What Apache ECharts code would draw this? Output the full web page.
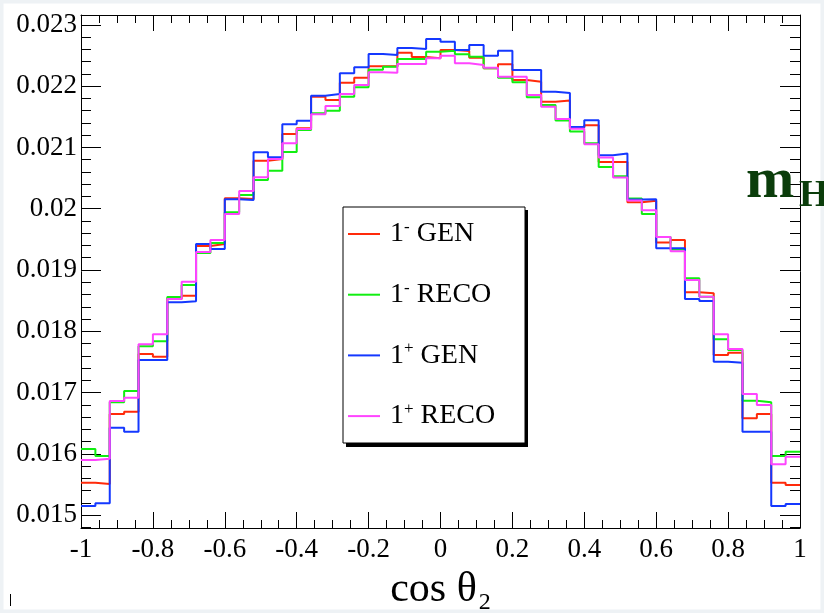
<!DOCTYPE html>
<html><head><meta charset="utf-8">
<script src="https://cdn.jsdelivr.net/npm/echarts@6/dist/echarts.min.js"></script>
<style>html,body{margin:0;padding:0;background:#fff}#c{width:824px;height:613px}</style>
</head><body><div id="c"></div>
<script>
// ---- histogram definition ----
const xMin = -1, xMax = 1, binWidth = 0.04; // 50 bins
const seriesNames = ['1- GEN', '1- RECO', '1+ GEN', '1+ RECO'];
const seriesColors = ['#ff2a0a', '#11ee11', '#1438ff', '#ff44ff'];

// bin contents, bins from cos = -1 to 1
const minusGEN = [
  0.015527,0.015506,0.016649,0.016687,0.017629,0.017584,0.018527,0.018580,0.019392,0.019424,
  0.020171,0.020159,0.020784,0.020812,0.021220,0.021314,0.021829,0.021776,0.022058,0.022140,
  0.022326,0.022326,0.022548,0.022478,0.022456,0.022592,0.022576,0.022466,0.022293,0.022358,
  0.022102,0.022074,0.021748,0.021767,0.021327,0.021362,0.020763,0.020763,0.020105,0.020130,
  0.019449,0.019490,0.018636,0.018620,0.017612,0.017650,0.016579,0.016649,0.015527,0.015490];
const minusRECO = [
  0.016078,0.015963,0.016840,0.017024,0.017754,0.017836,0.018559,0.018755,0.019278,0.019441,
  0.019942,0.020224,0.020469,0.020621,0.020927,0.021286,0.021558,0.021601,0.021829,0.021983,
  0.022270,0.022319,0.022445,0.022445,0.022564,0.022580,0.022522,0.022482,0.022293,0.022140,
  0.022065,0.021820,0.021694,0.021441,0.021261,0.021069,0.020682,0.020531,0.020166,0.019914,
  0.019539,0.019335,0.018865,0.018564,0.017869,0.017694,0.016866,0.016840,0.015963,0.016033];
const plusGEN = [
  0.015147,0.015191,0.016425,0.016360,0.017531,0.017531,0.018473,0.018489,0.019424,0.019343,
  0.020154,0.020143,0.020922,0.020840,0.021379,0.021438,0.021846,0.021873,0.022211,0.022309,
  0.022527,0.022510,0.022624,0.022608,0.022771,0.022727,0.022592,0.022673,0.022499,0.022580,
  0.022265,0.022265,0.021911,0.021890,0.021335,0.021444,0.020873,0.020900,0.020149,0.020154,
  0.019354,0.019354,0.018527,0.018494,0.017503,0.017487,0.016360,0.016360,0.015147,0.015180];
const plusRECO = [
  0.015898,0.015919,0.016861,0.016915,0.017787,0.017950,0.018527,0.018809,0.019294,0.019490,
  0.019914,0.020290,0.020513,0.020812,0.021069,0.021302,0.021542,0.021678,0.021873,0.022020,
  0.022228,0.022221,0.022363,0.022363,0.022456,0.022499,0.022375,0.022347,0.022303,0.022156,
  0.022156,0.021857,0.021666,0.021465,0.021305,0.021052,0.020837,0.020510,0.020135,0.019975,
  0.019539,0.019307,0.018837,0.018564,0.017950,0.017710,0.016976,0.016796,0.015828,0.015952];

// ---- axes ----
const yMin = 0.014788, yMax = 0.023163;
const yTickValues = [0.015,0.016,0.017,0.018,0.019,0.020,0.021,0.022,0.023];
const yTickLabels = ['0.015','0.016','0.017','0.018','0.019','0.02','0.021','0.022','0.023'];
const yMinorStep = 0.0002;
const xTickValues = [-1,-0.8,-0.6,-0.4,-0.2,0,0.2,0.4,0.6,0.8,1];
const xTickLabels = ['-1','-0.8','-0.6','-0.4','-0.2','0','0.2','0.4','0.6','0.8','1'];

const yMinorValues = [];
for (let k = Math.ceil(yMin / yMinorStep - 1e-9); k * yMinorStep <= yMax + 1e-12; k++) {
  yMinorValues.push(+(k * yMinorStep).toFixed(6));
}

function histData(vals) {
  const d = vals.map((v, i) => [xMin + i * binWidth, v]);
  d.push([xMax, vals[vals.length - 1]]);
  return d;
}
function nearestLabel(v, values, labels) {
  let best = 0;
  for (let i = 1; i < values.length; i++) if (Math.abs(values[i] - v) < Math.abs(values[best] - v)) best = i;
  return labels[best];
}

const FONT = '"Liberation Serif", "Times New Roman", serif';
const black = '#000';
const frameLine = { show: true, onZero: false, lineStyle: { color: black, width: 1 } };
const tickRich = { a: { fontFamily: FONT, fontSize: 27, color: black } };

const xBase = (pos) => ({
  type: 'value', min: xMin, max: xMax, interval: 0.2, position: pos,
  axisLine: frameLine,
  axisTick: { show: true, inside: true, length: 16, lineStyle: { color: black, width: 1 } },
  minorTick: { show: true, splitNumber: 4, length: 8, lineStyle: { color: black, width: 1 } },
  splitLine: { show: false }, minorSplitLine: { show: false }
});
const yMajor = (pos, labels) => ({
  type: 'value', min: yMin, max: yMax, position: pos,
  axisLine: frameLine,
  axisTick: { show: true, inside: true, length: 20, customValues: yTickValues, lineStyle: { color: black, width: 1 } },
  axisLabel: labels ? {
    show: true, customValues: yTickValues, fontFamily: FONT, fontSize: 27, color: black, margin: 4,
    formatter: (v) => '{a|' + nearestLabel(v, yTickValues, yTickLabels) + '}', rich: tickRich
  } : { show: false },
  splitLine: { show: false }
});
const yMinor = (pos) => ({
  type: 'value', min: yMin, max: yMax, position: pos,
  axisLine: { show: false, onZero: false },
  axisTick: { show: true, inside: true, length: 10, customValues: yMinorValues, lineStyle: { color: black, width: 1 } },
  axisLabel: { show: false }, splitLine: { show: false }
});

const xBottom = Object.assign(xBase('bottom'), {
  axisLabel: { show: true, fontFamily: FONT, fontSize: 27, color: black, margin: 8,
    formatter: (v) => '{a|' + nearestLabel(v, xTickValues, xTickLabels) + '}', rich: tickRich },
  name: '{a|cos θ}{b|2}', nameLocation: 'middle', nameGap: 39,
  nameTextStyle: { fontFamily: FONT, color: black,
    rich: { a: { fontFamily: FONT, fontSize: 42, color: black, lineHeight: 46 },
            b: { fontFamily: FONT, fontSize: 24, color: black, verticalAlign: 'bottom', lineHeight: 24, padding: [0,0,-2,2] } } }
});
const xTop = Object.assign(xBase('top'), { axisLabel: { show: false } });

const series = [minusGEN, minusRECO, plusGEN, plusRECO].map((vals, i) => ({
  name: seriesNames[i], type: 'line', step: 'end', data: histData(vals),
  symbol: 'none', showSymbol: false, silent: true, animation: false,
  lineStyle: { color: seriesColors[i], width: 2 }, itemStyle: { color: seriesColors[i] },
  xAxisIndex: 0, yAxisIndex: 0, z: 2 + i
}));

const chart = echarts.init(document.getElementById('c'), null, { renderer: 'canvas' });
chart.setOption({
  backgroundColor: '#ffffff',
  animation: false,
  textStyle: { fontFamily: FONT },
  grid: { left: 81, right: 24, top: 15, bottom: 85, containLabel: false, outerBoundsMode: 'none' },
  xAxis: [xBottom, xTop],
  yAxis: [yMajor('left', true), yMinor('left'), yMajor('right', false), yMinor('right')],
  legend: {
    orient: 'vertical', left: 348, top: 219, padding: 0, itemGap: 31.7,
    itemWidth: 32, itemHeight: 2, selectedMode: false, z: 10,
    data: seriesNames.map((n, i) => ({ name: n, icon: 'rect', itemStyle: { color: seriesColors[i], borderWidth: 0 } })),
    formatter: (name) => {
      const sign = name.charAt(1);
      const rest = name.slice(3);
      return '{n|1}{s|' + sign + '}{t| ' + rest + '}';
    },
    textStyle: {
      fontFamily: FONT, color: black, fontSize: 28,
      rich: {
        n: { fontFamily: FONT, fontSize: 28, color: black, lineHeight: 30, padding: [0,0,0,5] },
        s: { fontFamily: FONT, fontSize: 17, color: black, lineHeight: 14, verticalAlign: 'top' },
        t: { fontFamily: FONT, fontSize: 28, color: black, lineHeight: 30 }
      }
    }
  },
  graphic: [
    { type: 'rect', z: -10, silent: true, shape: { x: 1.5, y: 1.5, width: 821, height: 610 },
      style: { fill: 'none', stroke: '#eef2f5', lineWidth: 4 } },
    { type: 'rect', z: 8, silent: true, shape: { x: 346, y: 210, width: 182, height: 237 },
      style: { fill: '#000' } },
    { type: 'rect', z: 9, silent: true, shape: { x: 343, y: 207, width: 182, height: 236 },
      style: { fill: '#fff', stroke: '#000', lineWidth: 1 } },
    { type: 'text', z: 10, silent: true, style: { x: 746, y: 182, text: 'm', font: 'bold 58px "Liberation Serif"',
      fill: '#0b3d0b', verticalAlign: 'middle', align: 'left' } },
    { type: 'text', z: 10, silent: true, style: { x: 799, y: 196, text: 'H', font: 'bold 38px "Liberation Serif"',
      fill: '#0b3d0b', verticalAlign: 'middle', align: 'left' } },
    { type: 'line', z: 10, silent: true, shape: { x1: 10.5, y1: 594, x2: 10.5, y2: 606 },
      style: { stroke: '#000', lineWidth: 1 } }
  ],
  series: series
});
</script>
</body></html>
